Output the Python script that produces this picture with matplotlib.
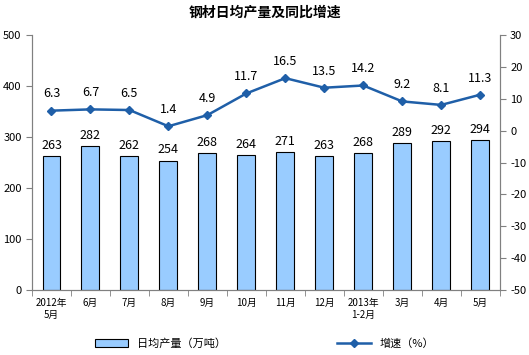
import matplotlib.pyplot as plt
import numpy as np

plt.rcParams['font.family'] = ['Noto Sans CJK SC', 'DejaVu Sans']
plt.rcParams['axes.unicode_minus'] = False

months = ['2012年\n5月', '6月', '7月', '8月', '9月', '10月', '11月', '12月',
          '2013年\n1-2月', '3月', '4月', '5月']
output = [263, 282, 262, 254, 268, 264, 271, 263, 268, 289, 292, 294]
growth = [6.3, 6.7, 6.5, 1.4, 4.9, 11.7, 16.5, 13.5, 14.2, 9.2, 8.1, 11.3]

fig = plt.figure(figsize=(5.29, 3.55), dpi=100)
ax = fig.add_axes([0.0605, 0.183, 0.884, 0.718])
ax2 = ax.twinx()

x = np.arange(len(months))
bars = ax.bar(x, output, width=0.46, color='#99ccff', edgecolor='black',
              linewidth=0.8, label='日均产量（万吨）')
for xi, v in zip(x, output):
    ax.text(xi, v + 8, str(v), ha='center', va='bottom', fontsize=9)

line, = ax2.plot(x, growth, color='#1f5fa8', marker='D', markersize=4,
                 linewidth=1.8, label='增速（%）')
for xi, v in zip(x, growth):
    ax2.text(xi, v + 3.2, f'{v}', ha='center', va='bottom', fontsize=9)

ax.set_xlim(-0.5, len(months) - 0.5)
ax.set_ylim(0, 500)
ax.set_yticks(range(0, 501, 100))
ax2.set_ylim(-50, 30)
ax2.set_yticks(range(-50, 31, 10))

ax.set_xticks(x)
ax.set_xticklabels(months, fontsize=7)
ax.set_xticks(np.arange(-0.5, len(months), 1), minor=True)
ax.tick_params(axis='x', which='major', length=0, pad=6)
ax.tick_params(axis='x', which='minor', length=4, color='#808080')
ax.tick_params(axis='y', labelsize=8, color='#808080', length=4)
ax2.tick_params(axis='y', labelsize=8, color='#808080', length=4)

for a in (ax, ax2):
    a.spines['top'].set_visible(False)
    for s in ('left', 'right', 'bottom'):
        a.spines[s].set_color('#808080')

ax.set_zorder(ax2.get_zorder() - 1)
ax2.patch.set_visible(False)

fig.suptitle('钢材日均产量及同比增速', y=0.985, fontsize=10, fontweight='bold')
fig.legend([bars, line], ['日均产量（万吨）', '增速（%）'], loc='lower center',
           ncol=2, frameon=False, fontsize=8, bbox_to_anchor=(0.5, -0.01),
           columnspacing=10, handlelength=3)

fig.savefig('out.png', dpi=100)
